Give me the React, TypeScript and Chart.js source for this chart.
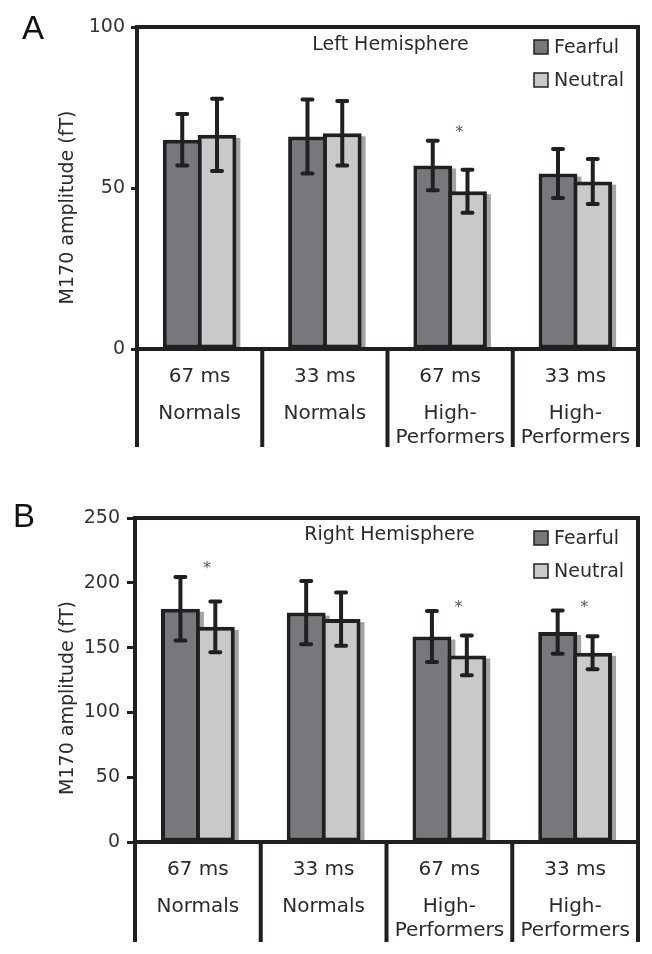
import React, { useEffect, useRef } from "react";
import { Chart, registerables } from "chart.js";

Chart.register(...registerables);

// ---------- data ----------
const DURATIONS = ["67 ms", "33 ms", "67 ms", "33 ms"];
const GROUPS = [["Normals"], ["Normals"], ["High-", "Performers"], ["High-", "Performers"]];
const SERIES = ["Fearful", "Neutral"];
const AXIS_TITLE = "M170 amplitude (fT)";

const LEFT_TICKS = [0, 50, 100];
const LEFT_FEARFUL = [65, 66, 57, 54.5];
const LEFT_FEARFUL_ERR = [8, 11.5, 7.7, 7.6];
const LEFT_NEUTRAL = [66.5, 67, 49, 52];
const LEFT_NEUTRAL_ERR = [11.2, 10, 6.7, 7];
const LEFT_SIG = [null, null, 68.7, null];

const RIGHT_TICKS = [0, 50, 100, 150, 200, 250];
const RIGHT_FEARFUL = [180, 177, 158.5, 162];
const RIGHT_FEARFUL_ERR = [24.5, 24.4, 19.7, 16.7];
const RIGHT_NEUTRAL = [166, 172, 144, 146];
const RIGHT_NEUTRAL_ERR = [19.6, 20.6, 15.3, 12.8];
const RIGHT_SIG = [214.5, null, 184.4, 184.4];

// ---------- styles ----------
const FONT = "'DejaVu Sans', sans-serif";
const INK = "#231f20";
const TEXT = "#2b2b2b";
const FEARFUL_COLOR = "#77787b";
const NEUTRAL_COLOR = "#c8c9cb";
const SHADOW_COLOR = "#a3a3a3";
const W = 652;
const H = 477;

type Spec = {
  letter: string;
  title: string;
  ticks: number[];
  fearful: number[];
  fearfulErr: number[];
  neutral: number[];
  neutralErr: number[];
  sig: (number | null)[];
  padTop: number;
  padRight: number;
  padBottom: number;
  axisWidth: number;
  tickLength: number;
  tickPadding: number;
  letterX: number;
  letterY: number;
  tableDepth: number;
  titleDy: number;
  yTitleDy: number;
};

const PANEL_A: Spec = {
  letter: "A",
  title: "Left Hemisphere",
  ticks: LEFT_TICKS,
  fearful: LEFT_FEARFUL,
  fearfulErr: LEFT_FEARFUL_ERR,
  neutral: LEFT_NEUTRAL,
  neutralErr: LEFT_NEUTRAL_ERR,
  sig: LEFT_SIG,
  padTop: 27,
  padRight: 14,
  padBottom: H - 349,
  axisWidth: 137,
  tickLength: 6,
  tickPadding: 6,
  letterX: 22,
  letterY: 39,
  tableDepth: 98,
  titleDy: 18,
  yTitleDy: 19.5,
};

const PANEL_B: Spec = {
  letter: "B",
  title: "Right Hemisphere",
  ticks: RIGHT_TICKS,
  fearful: RIGHT_FEARFUL,
  fearfulErr: RIGHT_FEARFUL_ERR,
  neutral: RIGHT_NEUTRAL,
  neutralErr: RIGHT_NEUTRAL_ERR,
  sig: RIGHT_SIG,
  padTop: 41,
  padRight: 14,
  padBottom: H - 365,
  axisWidth: 135,
  tickLength: 8,
  tickPadding: 7,
  letterX: 13,
  letterY: 50,
  tableDepth: 100,
  titleDy: 17,
  yTitleDy: 18,
};

function makeDecor(spec: Spec) {
  return {
    id: "panelDecor",
    beforeDatasetsDraw(chart: any) {
      const ctx = chart.ctx;
      ctx.save();
      ctx.fillStyle = SHADOW_COLOR;
      chart.data.datasets.forEach((_ds: any, i: number) => {
        const meta = chart.getDatasetMeta(i);
        meta.data.forEach((el: any) => {
          const p = el.getProps(["x", "y", "base", "width"], true);
          ctx.fillRect(p.x - p.width / 2 + 4, p.y + 3, p.width, p.base - p.y - 3);
        });
      });
      ctx.restore();
    },
    afterDatasetsDraw(chart: any) {
      const ctx = chart.ctx;
      const area = chart.chartArea;
      const xs = chart.scales.x;
      const ys = chart.scales.y;
      const tableBottom = area.bottom + spec.tableDepth;
      ctx.save();

      // error bars
      const errs = [spec.fearfulErr, spec.neutralErr];
      ctx.strokeStyle = INK;
      ctx.lineWidth = 4;
      ctx.lineCap = "round";
      chart.data.datasets.forEach((ds: any, i: number) => {
        const meta = chart.getDatasetMeta(i);
        meta.data.forEach((el: any, j: number) => {
          const v = ds.data[j];
          const e = errs[i][j];
          const x = el.x;
          const y1 = ys.getPixelForValue(v + e);
          const y2 = ys.getPixelForValue(v - e);
          ctx.beginPath();
          ctx.moveTo(x, y1);
          ctx.lineTo(x, y2);
          ctx.moveTo(x - 5, y1);
          ctx.lineTo(x + 5, y1);
          ctx.moveTo(x - 5, y2);
          ctx.lineTo(x + 5, y2);
          ctx.stroke();
        });
      });

      // frame + category table
      ctx.lineCap = "butt";
      ctx.lineWidth = 4;
      ctx.beginPath();
      ctx.moveTo(area.left - 2, area.top);
      ctx.lineTo(area.right + 2, area.top);
      ctx.moveTo(area.left, area.top);
      ctx.lineTo(area.left, tableBottom);
      ctx.moveTo(area.right, area.top);
      ctx.lineTo(area.right, tableBottom);
      ctx.moveTo(area.left, area.bottom);
      ctx.lineTo(area.right, area.bottom);
      const n = DURATIONS.length;
      for (let i = 0; i < n - 1; i++) {
        const xb = (xs.getPixelForValue(i) + xs.getPixelForValue(i + 1)) / 2;
        ctx.moveTo(xb, area.bottom);
        ctx.lineTo(xb, tableBottom);
      }
      ctx.stroke();

      // category labels
      ctx.fillStyle = TEXT;
      ctx.textAlign = "center";
      ctx.textBaseline = "middle";
      ctx.font = `20px ${FONT}`;
      for (let i = 0; i < n; i++) {
        const xc = xs.getPixelForValue(i);
        ctx.fillText(DURATIONS[i], xc, area.bottom + 28);
        GROUPS[i].forEach((g, k) => {
          ctx.fillText(g, xc, area.bottom + 64.5 + k * 24);
        });
      }

      // significance asterisks
      ctx.fillStyle = "#555";
      ctx.font = `16px ${FONT}`;
      ctx.textBaseline = "alphabetic";
      spec.sig.forEach((s, i) => {
        if (s == null) return;
        ctx.fillText("*", xs.getPixelForValue(i) + 9, ys.getPixelForValue(s) + 9);
      });

      // title inside plot
      ctx.fillStyle = TEXT;
      ctx.font = `19px ${FONT}`;
      ctx.textBaseline = "middle";
      ctx.fillText(spec.title, (area.left + area.right) / 2 + 3, area.top + spec.titleDy);

      // legend
      const colors = [FEARFUL_COLOR, NEUTRAL_COLOR];
      chart.data.datasets.forEach((ds: any, i: number) => {
        const sx = area.right - 104;
        const sy = area.top + 13 + i * 33;
        ctx.fillStyle = colors[i];
        ctx.fillRect(sx, sy, 14, 14);
        ctx.strokeStyle = INK;
        ctx.lineWidth = 1.5;
        ctx.strokeRect(sx, sy, 14, 14);
        ctx.fillStyle = TEXT;
        ctx.textAlign = "left";
        ctx.font = `19px ${FONT}`;
        ctx.fillText(ds.label, sx + 20, sy + 8);
      });

      // y axis title
      ctx.save();
      ctx.translate(68, (area.top + area.bottom) / 2 + spec.yTitleDy);
      ctx.rotate(-Math.PI / 2);
      ctx.textAlign = "center";
      ctx.textBaseline = "middle";
      ctx.font = `19px ${FONT}`;
      ctx.fillStyle = TEXT;
      ctx.fillText(AXIS_TITLE, 0, 0);
      ctx.restore();

      // panel letter
      ctx.fillStyle = "#111";
      ctx.textAlign = "left";
      ctx.textBaseline = "alphabetic";
      ctx.font = `33px 'Liberation Sans', Arial, sans-serif`;
      ctx.fillText(spec.letter, spec.letterX, spec.letterY);

      ctx.restore();
    },
  };
}

function buildChart(canvas: HTMLCanvasElement, spec: Spec) {
  const labels = DURATIONS.map((d, i) => [d, ...GROUPS[i]].join(" "));
  return new Chart(canvas, {
    type: "bar",
    data: {
      labels,
      datasets: [
        {
          label: SERIES[0],
          data: spec.fearful,
          backgroundColor: FEARFUL_COLOR,
          borderColor: INK,
          borderWidth: 4,
          borderSkipped: false,
          categoryPercentage: 0.555,
          barPercentage: 1.115,
        },
        {
          label: SERIES[1],
          data: spec.neutral,
          backgroundColor: NEUTRAL_COLOR,
          borderColor: INK,
          borderWidth: 4,
          borderSkipped: false,
          categoryPercentage: 0.555,
          barPercentage: 1.115,
        },
      ],
    },
    options: {
      responsive: false,
      animation: false,
      devicePixelRatio: 1,
      layout: {
        padding: { left: 0, top: spec.padTop, right: spec.padRight, bottom: spec.padBottom },
      },
      plugins: {
        legend: { display: false },
        title: { display: false },
        tooltip: { enabled: false },
      },
      scales: {
        x: { display: false },
        y: {
          min: spec.ticks[0],
          max: spec.ticks[spec.ticks.length - 1],
          ticks: {
            stepSize: spec.ticks[1] - spec.ticks[0],
            padding: spec.tickPadding,
            color: "#333",
            font: { family: FONT, size: 19 },
          },
          grid: {
            display: true,
            drawOnChartArea: false,
            drawTicks: true,
            tickLength: spec.tickLength,
            tickWidth: 3,
            tickColor: INK,
            color: INK,
          },
          border: { display: false },
          afterFit: (scale: any) => {
            scale.width = spec.axisWidth;
          },
        },
      },
    },
    plugins: [makeDecor(spec)],
  } as any);
}

export default function App() {
  const refA = useRef<HTMLCanvasElement>(null);
  const refB = useRef<HTMLCanvasElement>(null);
  useEffect(() => {
    const a = buildChart(refA.current!, PANEL_A);
    const b = buildChart(refB.current!, PANEL_B);
    return () => {
      a.destroy();
      b.destroy();
    };
  }, []);
  return (
    <div style={{ position: "absolute", left: 0, top: 0, width: W, height: 2 * H, background: "#fff" }}>
      <canvas ref={refA} width={W} height={H} style={{ display: "block" }} />
      <canvas ref={refB} width={W} height={H} style={{ display: "block" }} />
    </div>
  );
}
